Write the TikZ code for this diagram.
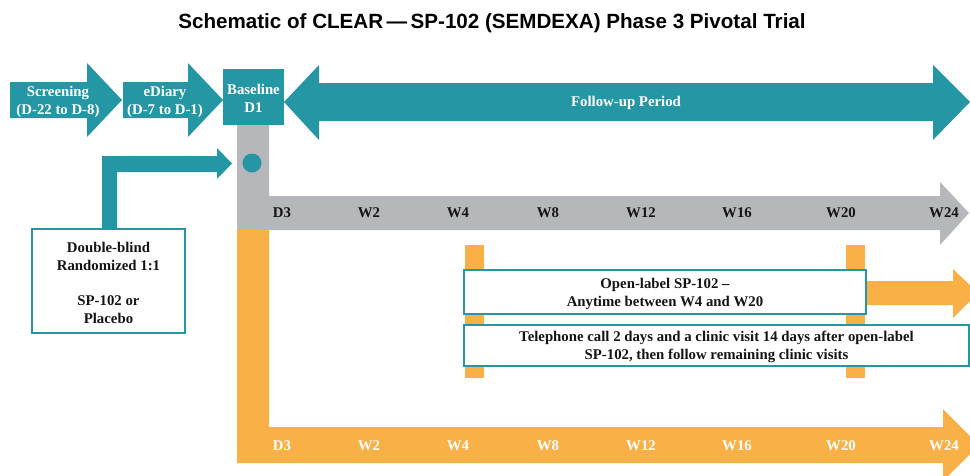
\documentclass[tikz,border=0pt]{standalone}
\usepackage{fontspec}
\setmainfont{Liberation Serif}
\newfontfamily\titlefont{Liberation Sans}
\definecolor{teal1}{RGB}{36,150,164}
\definecolor{gray1}{RGB}{182,183,186}
\definecolor{orange1}{RGB}{249,177,71}
\definecolor{ink}{RGB}{20,20,20}
\begin{document}
\begin{tikzpicture}[x=1pt,y=-1pt,
  txt/.style={font=\bfseries\fontsize{14.8}{18}\selectfont, align=center, inner sep=0pt},
  wtxt/.style={txt, text=white},
  btxt/.style={txt, text=ink},
  wbox/.style={draw=teal1, line width=1.6pt, fill=white}]
\useasboundingbox (0,0) rectangle (970,475);
\fill[white] (0,0) rectangle (970,475);
\begin{scope}
\clip (0,0) rectangle (970,475);
% title
\node[font=\titlefont\bfseries\fontsize{20.6}{23}\selectfont, text=black, inner sep=0pt] (title) at (492,23) {Schematic of CLEAR\,—\,SP-102 (SEMDEXA) Phase 3 Pivotal Trial};
% top arrows
\fill[teal1] (10,82) -- (87,82) -- (87,63) -- (122,100) -- (87,137) -- (87,118) -- (10,118) -- cycle;
\fill[teal1] (123,82) -- (188,82) -- (188,63) -- (223,100) -- (188,137) -- (188,118) -- (123,118) -- cycle;
\fill[teal1] (223,69) rectangle (284,125);
\fill[teal1] (284,102) -- (319,65) -- (319,83) -- (933,83) -- (933,65) -- (970,102) -- (933,140) -- (933,121) -- (319,121) -- (319,140) -- cycle;
% gray L arrow
\fill[gray1] (237,125) -- (269,125) -- (269,196) -- (940,196) -- (940,182) -- (969,213) -- (940,245) -- (940,230) -- (237,230) -- cycle;
% orange L arrow
\fill[orange1] (237,230) -- (269,230) -- (269,427) -- (943,427) -- (943,409) -- (979,445) -- (943,481) -- (943,463) -- (237,463) -- cycle;
% dot
\fill[teal1] (252,163) circle (9.5);
% teal L connector
\fill[teal1] (102,228) -- (102,156) -- (217,156) -- (217,148) -- (232,163.5) -- (217,179) -- (217,172) -- (117,172) -- (117,228) -- cycle;
% orange bars
\fill[orange1] (465,245) rectangle (484,378);
\fill[orange1] (846,245) rectangle (865,378);
% orange right arrow
\fill[orange1] (866,281) -- (953,281) -- (953,269) -- (978,293) -- (953,318) -- (953,305) -- (866,305) -- cycle;
% boxes
\draw[wbox] (32,229) rectangle (185,333);
\draw[wbox] (464,270) rectangle (866,314);
\draw[wbox] (464,325) rectangle (969,366);
\end{scope}
% texts
\node[wtxt] (scr) at (58,102) {Screening\\(D-22 to D-8)};
\node[wtxt] (edi) at (165,102) {eDiary\\(D-7 to D-1)};
\node[wtxt] (base) at (253.5,98.5) {Baseline\\D1};
\node[wtxt] (fup) at (626,103) {Follow-up Period};
\node[btxt] (rand) at (108.5,283) {Double-blind\\Randomized 1:1\\[17.5pt]SP-102 or\\Placebo};
\node[btxt] (open) at (665,294) {Open-label SP-102 –\\Anytime between W4 and W20};
\node[btxt] (tel) at (716.5,347) {Telephone call 2 days and a clinic visit 14 days after open-label\\SP-102, then follow remaining clinic visits};
% timeline labels
\foreach \n/\xx in {D3/282,W2/369,W4/458,W8/548,W12/641,W16/737,W20/841,W24/944}{
  \node[btxt] (g\n) at (\xx,213) {\n};
  \node[wtxt] (o\n) at (\xx,446) {\n};
}
\end{tikzpicture}
\end{document}
